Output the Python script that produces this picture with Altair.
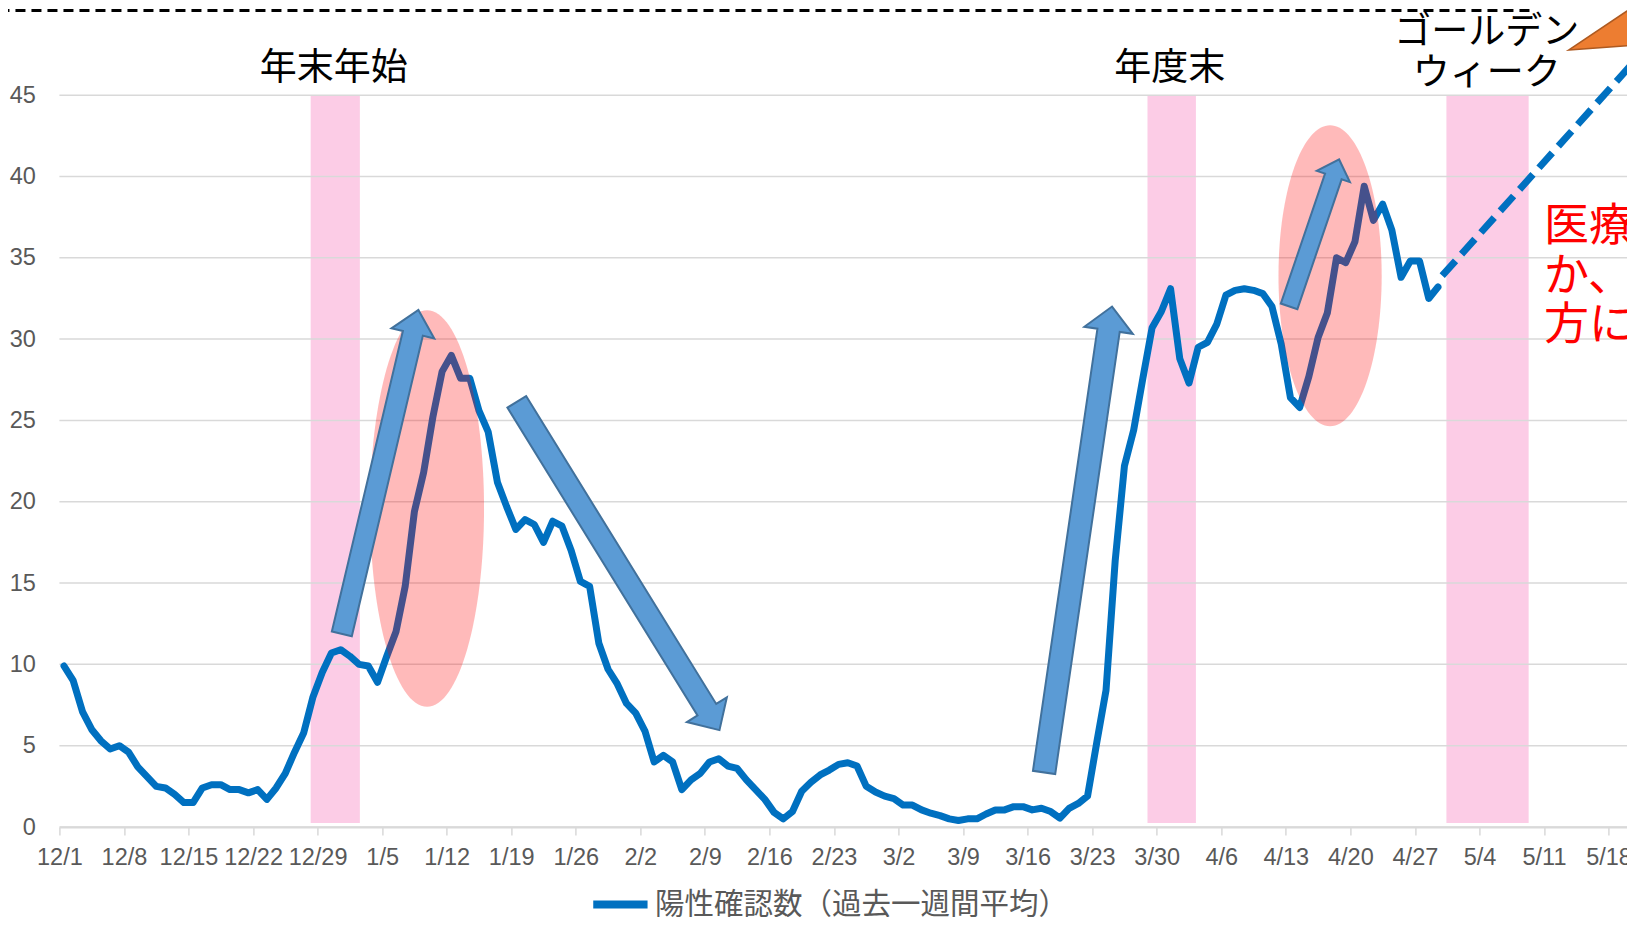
import altair as alt
import pandas as pd

# ---------------- data ----------------
series_name = "陽性確認数（過去一週間平均）"
first_point = pd.Timestamp("2020-12-01 12:00")
cases = [9.9, 9.0, 7.1, 6.0, 5.3, 4.8, 5.0, 4.6, 3.7, 3.1,
         2.5, 2.4, 2.0, 1.5, 1.5, 2.4, 2.6, 2.6, 2.3, 2.3,
         2.1, 2.3, 1.7, 2.4, 3.3, 4.6, 5.8, 8.0, 9.5, 10.7,
         10.9, 10.5, 10.0, 9.9, 8.9, 10.5, 12.0, 14.8, 19.4, 21.8,
         25.2, 28.0, 29.0, 27.6, 27.6, 25.6, 24.3, 21.2, 19.7, 18.3,
         18.9, 18.6, 17.5, 18.8, 18.5, 17.0, 15.1, 14.8, 11.3, 9.7,
         8.8, 7.6, 7.0, 5.9, 4.0, 4.4, 4.0, 2.3, 2.9, 3.3,
         4.0, 4.2, 3.75, 3.6, 2.9, 2.3, 1.7, 0.9, 0.5, 0.95,
         2.2, 2.75, 3.2, 3.5, 3.85, 3.95, 3.75, 2.5, 2.15, 1.9,
         1.75, 1.35, 1.35, 1.05, 0.85, 0.7, 0.5, 0.4, 0.5, 0.5,
         0.8, 1.05, 1.05, 1.25, 1.25, 1.05, 1.15, 0.95, 0.55, 1.15,
         1.45, 1.9, 5.2, 8.4, 16.4, 22.2, 24.4, 27.6, 30.7, 31.7,
         33.1, 28.8, 27.3, 29.5, 29.8, 30.9, 32.7, 33.0, 33.1, 33.0,
         32.8, 32.0, 29.7, 26.4, 25.8, 27.7, 30.1, 31.6, 35.0, 34.7,
         36.0, 39.4, 37.3, 38.3, 36.7, 33.8, 34.8, 34.8, 32.5, 33.2]
case_dates = [(first_point + pd.Timedelta(days=i)).strftime("%Y-%m-%dT%H:%M:%S")
              for i in range(len(cases))]

tick_labels = ["12/1", "12/8", "12/15", "12/22", "12/29", "1/5", "1/12", "1/19",
               "1/26", "2/2", "2/9", "2/16", "2/23", "3/2", "3/9", "3/16", "3/23",
               "3/30", "4/6", "4/13", "4/20", "4/27", "5/4", "5/11", "5/18"]
y_ticks = [0, 5, 10, 15, 20, 25, 30, 35, 40, 45]

# holiday bands
band_starts = ["2020-12-28T06:00:00", "2021-03-29T00:00:00", "2021-04-30T10:00:00"]
band_ends = ["2021-01-02T14:00:00", "2021-04-03T06:00:00", "2021-05-09T08:00:00"]
band_bottom = [0.25, 0.25, 0.25]
band_top = [45, 45, 45]

# projection (dashed)
proj_dates = ["2021-04-29T23:00:00", "2021-05-20T16:00:00"]
proj_values = [33.9, 47.0]

# black dashed separator at top
sep_start = ["2020-11-24T12:00:00"]
sep_end = ["2021-05-09T12:00:00"]
sep_value = [50.2]

# block arrows (centre, direction)
arrow_dates = ["2021-01-04T18:43:00", "2021-01-30T14:10:00",
               "2021-03-21T11:17:00", "2021-04-16T01:40:00"]
arrow_values = [21.83, 16.05, 17.68, 36.53]
arrow_angles = [13.3, 148.3, 8.3, 18.8]

# highlight ellipses (centre)
ellipse_dates = ["2021-01-09T20:53:00", "2021-04-17T19:12:00"]
ellipse_values = [19.58, 33.9]

# orange callout tail
wedge_dates = ["2021-05-17T02:24:00"]
wedge_values = [49.0]

# annotation texts
label_texts = ["年末年始", "年度末", "ゴールデン", "ウィーク"]
label_dates = ["2020-12-30T18:00:00", "2021-03-31T09:36:00",
               "2021-05-04T19:12:00", "2021-05-04T19:12:00"]
label_values = [46.6, 46.6, 48.85, 46.3]

red_texts = ["医療体制", "か、大", "方に広"]
red_dates = ["2021-05-11T00:00:00", "2021-05-11T00:00:00", "2021-05-11T00:00:00"]
red_values = [36.9, 33.85, 30.8]

# ---------------- styles ----------------
ARROW_LEN = [332.8, 385.8, 470.8, 155.2]
ARROW_SHAFT = [20.5, 22.0, 22.5, 17.5]
ARROW_HEAD_W = [44.0, 47.0, 49.0, 35.0]
ARROW_HEAD_L = [24.0, 24.0, 24.0, 18.0]
ELL_RX = [57.0, 51.6]
ELL_RY = [198.3, 150.5]

PLOT_W = 1567.6
PLOT_H = 819
AXIS_FONT = "Liberation Sans"
CJK_FONT = "Noto Sans CJK JP"
GRAY = "#595959"
GRID = "#D9D9D9"
BLUE = "#0070C0"


def arrow_path(length, shaft, head_w, head_len):
    a = shaft / length
    b = head_w / length
    hy = -1 + 2 * head_len / length
    pts = [(-a, 1), (-a, hy), (-b, hy), (0, -1), (b, hy), (a, hy), (a, 1)]
    return "M " + " L ".join(f"{x:.4f},{y:.4f}" for x, y in pts) + " Z"


def ellipse_path(rx, ry):
    r = rx / ry
    k = 0.5523
    return (f"M 0,-1 C {k*r:.4f},-1 {r:.4f},{-k:.4f} {r:.4f},0 "
            f"C {r:.4f},{k:.4f} {k*r:.4f},1 0,1 "
            f"C {-k*r:.4f},1 {-r:.4f},{k:.4f} {-r:.4f},0 "
            f"C {-r:.4f},{-k:.4f} {-k*r:.4f},-1 0,-1 Z")


def tick_dt(lbl):
    m, d = (int(v) for v in lbl.split("/"))
    return alt.DateTime(year=2020 if m == 12 else 2021, month=m, date=d)


# ---------------- tables ----------------
line_df = pd.DataFrame({"date": case_dates, "value": cases, "series": series_name})
band_df = pd.DataFrame({"start": band_starts, "end": band_ends, "lo": band_bottom, "hi": band_top})
grid_df = pd.DataFrame({"tick": y_ticks})
proj_df = pd.DataFrame({"date": proj_dates, "value": proj_values})
sep_df = pd.DataFrame({"start": sep_start, "end": sep_end, "value": sep_value})
arrow_df = pd.DataFrame({
    "date": arrow_dates, "value": arrow_values, "angle": arrow_angles,
    "shape": [arrow_path(*g) for g in zip(ARROW_LEN, ARROW_SHAFT, ARROW_HEAD_W, ARROW_HEAD_L)],
    "size": [L * L for L in ARROW_LEN],
})
ell_df = pd.DataFrame({
    "date": ellipse_dates, "value": ellipse_values,
    "shape": [ellipse_path(rx, ry) for rx, ry in zip(ELL_RX, ELL_RY)],
    "size": [(2 * ry) ** 2 for ry in ELL_RY],
})
wedge_df = pd.DataFrame({"date": wedge_dates, "value": wedge_values})
label_df = pd.DataFrame({"date": label_dates, "value": label_values, "text": label_texts})
red_df = pd.DataFrame({"date": red_dates, "value": red_values, "text": red_texts})

# ---------------- scales / axes ----------------
xscale = alt.Scale(domain=[alt.DateTime(year=2020, month=12, date=1),
                           alt.DateTime(year=2021, month=5, date=20)], nice=False)
yscale = alt.Scale(domain=[0, 50.36], nice=False, zero=False)
xaxis = alt.Axis(values=[tick_dt(t) for t in tick_labels], format="%-m/%-d",
                 labelFont=AXIS_FONT, labelFontSize=23.5, labelColor=GRAY,
                 tickColor=GRID, tickSize=8, tickWidth=1.5,
                 domainColor=GRID, domainWidth=2, grid=False,
                 labelPadding=10, labelAngle=0, labelOverlap=False, labelFlush=False,
                 title=None)
yaxis = alt.Axis(values=y_ticks, grid=False, domain=False, ticks=False,
                 labelFont=AXIS_FONT, labelFontSize=23.5, labelColor=GRAY,
                 labelPadding=24, title=None)


def X(f):
    return alt.X(f"{f}:T", scale=xscale, axis=xaxis, title=None)


def Y(f):
    return alt.Y(f"{f}:Q", scale=yscale, axis=yaxis, title=None)


bands = alt.Chart(band_df).mark_rect(color="#FCCCE6").encode(
    x=X("start"), x2="end", y=Y("lo"), y2="hi")

grid = alt.Chart(grid_df).mark_rule(color=GRID, strokeWidth=1.5).encode(y=Y("tick"))

line = alt.Chart(line_df).mark_line(strokeWidth=7, strokeJoin="round", strokeCap="round").encode(
    x=X("date"), y=Y("value"),
    color=alt.Color("series:N", scale=alt.Scale(range=[BLUE]),
                    legend=alt.Legend(title=None, orient="none", legendX=529.5, legendY=865,
                                      symbolType="stroke", symbolSize=2950,
                                      symbolStrokeWidth=8, symbolStrokeColor=BLUE,
                                      labelFont=CJK_FONT, labelFontSize=29.5,
                                      labelColor=GRAY, labelOffset=3,
                                      labelLimit=1000, padding=0)))

proj = alt.Chart(proj_df).mark_line(strokeWidth=7, strokeDash=[20, 9], color=BLUE).encode(
    x=X("date"), y=Y("value"))

sep = alt.Chart(sep_df).mark_rule(strokeWidth=3, strokeDash=[10, 6], color="black").encode(
    x=X("start"), x2="end", y=Y("value"))

ellipses = alt.Chart(ell_df).mark_point(filled=True, color="#FF0000", opacity=0.27,
                                        strokeWidth=0).encode(
    x=X("date"), y=Y("value"),
    shape=alt.Shape("shape:N", scale=None), size=alt.Size("size:Q", scale=None))

arrows = alt.Chart(arrow_df).mark_point(filled=True, fill="#5B9BD5", stroke="#41719C",
                                        strokeWidth=2, opacity=1).encode(
    x=X("date"), y=Y("value"),
    shape=alt.Shape("shape:N", scale=None), size=alt.Size("size:Q", scale=None),
    angle=alt.Angle("angle:Q", scale=None))

wedge = alt.Chart(wedge_df).mark_point(
    filled=True, fill="#ED7D31", stroke="#AE5A21", strokeWidth=1.5, opacity=1,
    shape="M -0.634,0.4 L 0.8,-0.56 L 0.8,0.29 Z", size=10000).encode(
    x=X("date"), y=Y("value"))

labels = alt.Chart(label_df).mark_text(font=CJK_FONT, fontSize=37, color="black",
                                       align="center", baseline="middle").encode(
    x=X("date"), y=Y("value"), text="text:N")

red = alt.Chart(red_df).mark_text(font=CJK_FONT, fontSize=45, color="#FF0000",
                                  align="left", baseline="middle").encode(
    x=X("date"), y=Y("value"), text="text:N")

chart = alt.layer(bands, grid, line, proj, ellipses, arrows, wedge, sep, labels, red).properties(
    width=PLOT_W, height=PLOT_H,
    padding={"left": 51.4, "top": 0, "right": 0, "bottom": 90},
    autosize=alt.AutoSizeParams(type="none"),
).configure_view(strokeWidth=0)

chart.save("out.html", embed_options={"renderer": "svg", "actions": False})
